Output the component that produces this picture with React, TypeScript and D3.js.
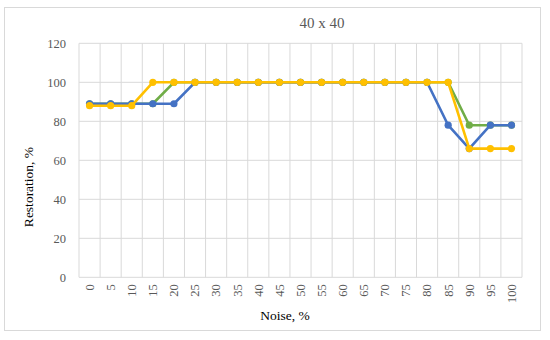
import React, { useEffect, useRef } from 'react';
import * as d3 from 'd3';

const noise = ['0', '5', '10', '15', '20', '25', '30', '35', '40', '45', '50', '55', '60', '65', '70', '75', '80', '85', '90', '95', '100'];
const greenValues = [89, 89, 89, 89, 100, 100, 100, 100, 100, 100, 100, 100, 100, 100, 100, 100, 100, 100, 78, 78, 78];
const blueValues = [89, 89, 89, 89, 89, 100, 100, 100, 100, 100, 100, 100, 100, 100, 100, 100, 100, 78, 66, 78, 78];
const yellowValues = [88, 88, 88, 100, 100, 100, 100, 100, 100, 100, 100, 100, 100, 100, 100, 100, 100, 100, 66, 66, 66];
const yTicks = [0, 20, 40, 60, 80, 100, 120];

const series = [
  { name: 'green', values: greenValues, color: '#70AD47' },
  { name: 'blue', values: blueValues, color: '#4472C4' },
  { name: 'yellow', values: yellowValues, color: '#FFC000' },
];

const W = 550;
const H = 340;
const font = '"Liberation Serif", "DejaVu Serif", serif';

export default function App() {
  const svgRef = useRef<SVGSVGElement>(null);

  useEffect(() => {
    const svg = d3.select(svgRef.current);
    svg.selectAll('*').remove();

    const left = 79, right = 522, top = 43.3, bottom = 277.3;

    const x = d3.scaleBand().domain(noise).range([left, right]);
    const y = d3.scaleLinear().domain([0, 120]).range([bottom, top]);

    // outer frame
    svg.append('rect')
      .attr('x', 4.5).attr('y', 7.5)
      .attr('width', 536).attr('height', 323)
      .attr('fill', '#fff')
      .attr('stroke', '#d9d9d9');

    // horizontal grid
    svg.append('g')
      .selectAll('line')
      .data(yTicks)
      .join('line')
      .attr('x1', left).attr('x2', right)
      .attr('y1', (d) => y(d)).attr('y2', (d) => y(d))
      .attr('stroke', '#d9d9d9');

    // vertical grid at category boundaries
    const bounds = noise.map((n) => x(n) as number).concat([right]);
    svg.append('g')
      .selectAll('line')
      .data(bounds)
      .join('line')
      .attr('x1', (d) => d).attr('x2', (d) => d)
      .attr('y1', top).attr('y2', bottom)
      .attr('stroke', '#d9d9d9');

    // y tick labels
    svg.append('g')
      .selectAll('text')
      .data(yTicks)
      .join('text')
      .attr('x', 66)
      .attr('y', (d) => y(d))
      .attr('dy', '0.35em')
      .attr('text-anchor', 'end')
      .attr('font-family', font)
      .attr('font-size', 12.5)
      .attr('fill', '#595959')
      .text((d) => d);

    // x tick labels rotated
    svg.append('g')
      .selectAll('text')
      .data(noise)
      .join('text')
      .attr('transform', (d) => `translate(${(x(d) as number) + x.bandwidth() / 2},${bottom + 7}) rotate(-90)`)
      .attr('dy', '0.35em')
      .attr('text-anchor', 'end')
      .attr('font-family', font)
      .attr('font-size', 12.5)
      .attr('fill', '#595959')
      .text((d) => d);

    const cx = (i: number) => (x(noise[i]) as number) + x.bandwidth() / 2;

    series.forEach((s) => {
      const line = d3.line<number>()
        .x((_, i) => cx(i))
        .y((d) => y(d));
      svg.append('path')
        .attr('d', line(s.values))
        .attr('fill', 'none')
        .attr('stroke', s.color)
        .attr('stroke-width', 2.6)
        .attr('stroke-linejoin', 'round');
      svg.append('g')
        .selectAll('circle')
        .data(s.values)
        .join('circle')
        .attr('cx', (_, i) => cx(i))
        .attr('cy', (d) => y(d))
        .attr('r', 3.6)
        .attr('fill', s.color);
    });

    // title
    svg.append('text')
      .attr('x', 322).attr('y', 23)
      .attr('dy', '0.35em')
      .attr('text-anchor', 'middle')
      .attr('font-family', font)
      .attr('font-size', 15)
      .attr('fill', '#595959')
      .text('40 x 40');

    // axis titles
    svg.append('text')
      .attr('x', 285).attr('y', 315)
      .attr('dy', '0.35em')
      .attr('text-anchor', 'middle')
      .attr('font-family', font)
      .attr('font-size', 13.5)
      .attr('fill', '#000')
      .text('Noise, %');

    svg.append('text')
      .attr('transform', 'translate(28,187) rotate(-90)')
      .attr('dy', '0.35em')
      .attr('text-anchor', 'middle')
      .attr('font-family', font)
      .attr('font-size', 13.5)
      .attr('fill', '#000')
      .text('Restoration, %');
  }, []);

  return (
    <svg
      ref={svgRef}
      width={W}
      height={H}
      style={{ position: 'absolute', left: 0, top: 0, background: '#fff' }}
    />
  );
}
